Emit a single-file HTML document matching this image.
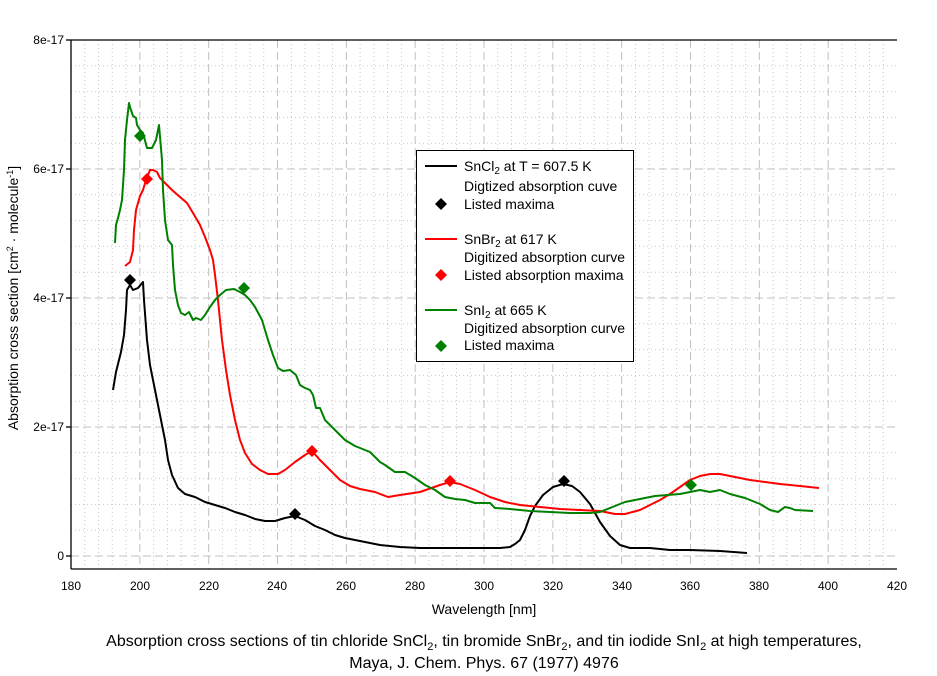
<!DOCTYPE html>
<html><head><meta charset="utf-8"><style>
body{margin:0;background:#fff}
svg{display:block;font-family:"Liberation Sans",Arial,sans-serif}
</style></head><body>
<svg width="937" height="676" viewBox="0 0 937 676" xmlns="http://www.w3.org/2000/svg">
<rect width="937" height="676" fill="#fff"/>
<g stroke="#c8c8c8" stroke-width="1" stroke-dasharray="1,3">
<line x1="71" x2="897" y1="65.8" y2="65.8"/><line x1="71" x2="897" y1="91.6" y2="91.6"/><line x1="71" x2="897" y1="117.4" y2="117.4"/><line x1="71" x2="897" y1="143.2" y2="143.2"/>
<line x1="71" x2="897" y1="194.8" y2="194.8"/><line x1="71" x2="897" y1="220.6" y2="220.6"/><line x1="71" x2="897" y1="246.4" y2="246.4"/><line x1="71" x2="897" y1="272.2" y2="272.2"/>
<line x1="71" x2="897" y1="323.8" y2="323.8"/><line x1="71" x2="897" y1="349.6" y2="349.6"/><line x1="71" x2="897" y1="375.4" y2="375.4"/><line x1="71" x2="897" y1="401.2" y2="401.2"/>
<line x1="71" x2="897" y1="452.8" y2="452.8"/><line x1="71" x2="897" y1="478.6" y2="478.6"/><line x1="71" x2="897" y1="504.4" y2="504.4"/><line x1="71" x2="897" y1="530.2" y2="530.2"/>
</g>
<g id="vminor" stroke="#c8c8c8" stroke-width="1" stroke-dasharray="1,3"></g>
<g id="vmajor" stroke="#c0c0c0" stroke-width="1" stroke-dasharray="8,4"></g>
<g stroke="#c0c0c0" stroke-width="1" stroke-dasharray="8,4">
<line x1="71" x2="897" y1="169" y2="169"/><line x1="71" x2="897" y1="298" y2="298"/><line x1="71" x2="897" y1="427" y2="427"/><line x1="71" x2="897" y1="556" y2="556"/>
</g>
<script>
(function(){var ns="http://www.w3.org/2000/svg";var mi=document.getElementById("vminor"),ma=document.getElementById("vmajor");
for(var v=184;v<420;v+=4){var x=71+(v-180)*3.4417;var l=document.createElementNS(ns,"line");l.setAttribute("x1",x);l.setAttribute("x2",x);l.setAttribute("y1",40);l.setAttribute("y2",569);(v%20==0?ma:mi).appendChild(l);}})();
</script>
<g stroke="#000" stroke-width="1.3" fill="none">
<line x1="71" y1="40" x2="897" y2="40"/><line x1="71" y1="40" x2="71" y2="569"/><line x1="71" y1="569" x2="897" y2="569"/>
<line x1="66" y1="40" x2="71" y2="40"/><line x1="66" y1="169" x2="71" y2="169"/><line x1="66" y1="298" x2="71" y2="298"/><line x1="66" y1="427" x2="71" y2="427"/><line x1="66" y1="556" x2="71" y2="556"/>
</g>
<g font-size="12" fill="#000" text-anchor="end">
<text x="64" y="44">8e-17</text><text x="64" y="173">6e-17</text><text x="64" y="302">4e-17</text><text x="64" y="431">2e-17</text><text x="64" y="560">0</text>
</g>
<g font-size="12" fill="#000" text-anchor="middle">
<text x="71" y="590">180</text><text x="140" y="590">200</text><text x="209" y="590">220</text><text x="277" y="590">240</text><text x="346" y="590">260</text><text x="415" y="590">280</text><text x="484" y="590">300</text><text x="553" y="590">320</text><text x="622" y="590">340</text><text x="690" y="590">360</text><text x="759" y="590">380</text><text x="828" y="590">400</text><text x="897" y="590">420</text>
</g>
<text x="484" y="614" font-size="14" text-anchor="middle">Wavelength [nm]</text>
<text transform="translate(18,298) rotate(-90)" font-size="14" text-anchor="middle">Absorption cross section [cm<tspan font-size="9" dy="-5">2</tspan><tspan dy="5"> · molecule</tspan><tspan font-size="9" dy="-5">-1</tspan><tspan dy="5">]</tspan></text>
<text x="484" y="646" font-size="16" text-anchor="middle">Absorption cross sections of tin chloride SnCl<tspan font-size="11" dy="4">2</tspan><tspan dy="-4">, tin bromide SnBr</tspan><tspan font-size="11" dy="4">2</tspan><tspan dy="-4">, and tin iodide SnI</tspan><tspan font-size="11" dy="4">2</tspan><tspan dy="-4"> at high temperatures,</tspan></text>
<text x="484" y="668" font-size="16" text-anchor="middle">Maya, J. Chem. Phys. 67 (1977) 4976</text>

<g fill="none" stroke-width="2" stroke-linejoin="round">
<polyline stroke="#000" points="113,390 116,372 121,352 124,335 126,310 127,290 130,285 133,290 138,288 143,282 144,300 147,340 150,365 155,390 160,415 165,440 168,460 172,475 178,488 185,494 195,497 205,502 215,505 225,508 235,512 245,515 255,519 265,521 275,521 285,518 295,516 305,520 315,526 325,530 335,535 345,538 360,541 380,545 400,547 420,548 440,548 460,548 480,548 500,548 510,547 515,544 520,540 525,530 530,516 535,506 543,495 553,487 563,484 572,486 580,492 590,504 600,522 610,536 620,545 630,548 650,548 670,550 690,550 720,551 747,553"/>
<polyline stroke="#f00" points="125,266 130,262 133,250 134,230 136,210 140,196 143,190 146,180 148,175 150,170 153,170 157,172 160,178 165,183 172,190 180,197 187,203 193,213 200,225 205,237 210,250 213,260 215,275 218,300 220,320 222,340 226,370 230,395 235,420 240,440 245,453 252,464 260,470 268,474 278,474 285,470 295,462 305,455 312,451 320,460 330,470 340,480 350,486 360,489 375,492 388,497 400,495 420,492 440,485 450,482 460,484 475,490 490,497 505,502 520,505 540,507 560,509 580,510 600,511 615,514 625,514 640,510 650,505 660,500 670,494 680,487 690,480 700,476 710,474 720,474 735,477 750,480 765,482 780,484 800,486 819,488"/>
<polyline stroke="#008000" points="115,243 116,225 118,218 120,210 122,200 123,185 124,170 125,140 127,120 129,103 130,107 133,116 136,118 137,125 140,130 143,133 147,148 152,148 156,140 159,125 162,160 163,190 165,220 168,240 172,245 173,265 175,290 178,305 181,313 185,315 189,312 193,320 196,318 201,320 205,315 210,307 215,300 220,295 226,290 234,289 240,292 245,295 250,300 255,307 262,320 268,340 273,355 278,368 283,371 290,370 296,375 300,385 305,388 310,390 313,395 316,408 320,408 325,420 330,425 335,430 340,435 345,440 350,443 355,446 360,448 365,450 370,452 375,457 380,462 385,465 395,472 405,472 415,478 425,485 435,490 445,497 455,499 465,500 475,503 490,503 495,508 510,509 530,511 550,512 570,513 590,513 600,512 615,506 625,502 640,499 655,496 680,494 690,492 700,490 710,492 720,490 730,494 745,498 760,504 770,510 778,512 785,507 790,508 795,510 813,511"/>
</g>
<g>
<path d="M130,274 l6,6 -6,6 -6,-6z" fill="#000"/><path d="M295,508 l6,6 -6,6 -6,-6z" fill="#000"/><path d="M564,475 l6,6 -6,6 -6,-6z" fill="#000"/>
<path d="M147,173 l6,6 -6,6 -6,-6z" fill="#f00"/><path d="M312,445 l6,6 -6,6 -6,-6z" fill="#f00"/><path d="M450,475 l6,6 -6,6 -6,-6z" fill="#f00"/>
<path d="M140,130 l6,6 -6,6 -6,-6z" fill="#008000"/><path d="M244,282 l6,6 -6,6 -6,-6z" fill="#008000"/><path d="M691,479 l6,6 -6,6 -6,-6z" fill="#008000"/>
</g>
<rect x="416.5" y="150.5" width="217" height="211" fill="#fff" stroke="#000" stroke-width="1"/>
<g stroke-width="2"><line x1="425" x2="457" y1="166" y2="166" stroke="#000"/><line x1="425" x2="457" y1="239" y2="239" stroke="#f00"/><line x1="425" x2="457" y1="310" y2="310" stroke="#008000"/></g>
<path d="M441,198 l6,6 -6,6 -6,-6z" fill="#000"/><path d="M441,269 l6,6 -6,6 -6,-6z" fill="#f00"/><path d="M441,340 l6,6 -6,6 -6,-6z" fill="#008000"/>
<g font-size="14" fill="#000">
<text x="464" y="171">SnCl<tspan font-size="10" dy="3">2</tspan><tspan dy="-3"> at T = 607.5 K</tspan></text>
<text x="464" y="191">Digtized absorption cuve</text>
<text x="464" y="209">Listed maxima</text>
<text x="464" y="244">SnBr<tspan font-size="10" dy="3">2</tspan><tspan dy="-3"> at 617 K</tspan></text>
<text x="464" y="262">Digitized absorption curve</text>
<text x="464" y="280">Listed absorption maxima</text>
<text x="464" y="315">SnI<tspan font-size="10" dy="3">2</tspan><tspan dy="-3"> at 665 K</tspan></text>
<text x="464" y="333">Digitized absorption curve</text>
<text x="464" y="350">Listed maxima</text>
</g>
</svg>
</body></html>
